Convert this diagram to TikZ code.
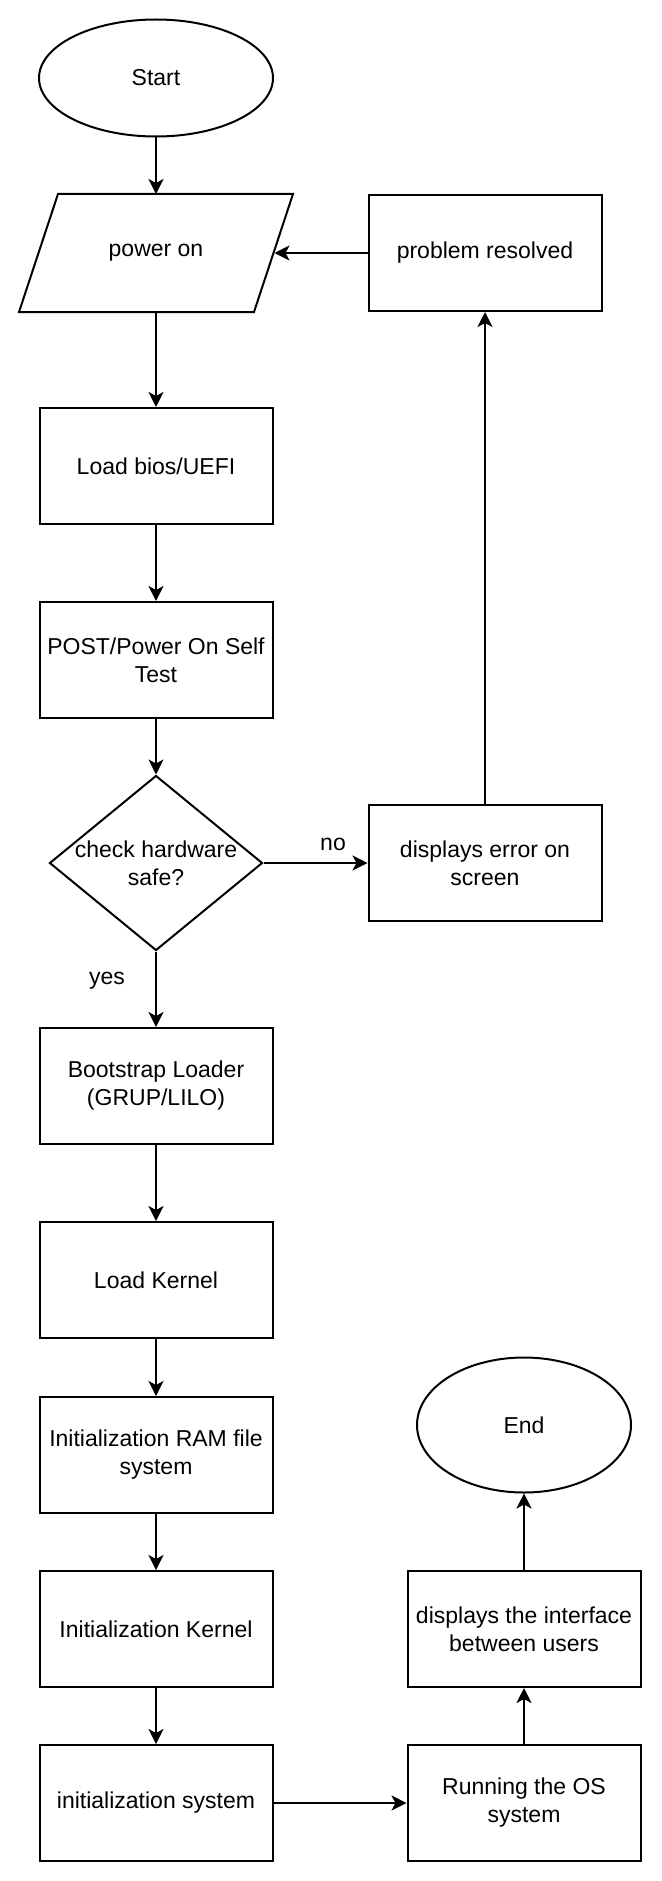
\documentclass[tikz,border=0pt]{standalone}
\usepackage{fontspec}
\setmainfont{Liberation Sans}
\usetikzlibrary{shapes.geometric,arrows.meta}

\begin{document}
\begin{tikzpicture}[x=1pt, y=-1pt, line width=2pt,
	  every node/.style={font=\fontsize{23}{28}\selectfont, align=center},
	  process/.style={draw, rectangle, minimum width=233pt, minimum height=116pt, inner sep=0pt},
	  terminal/.style={draw, ellipse, inner sep=0pt},
	  iobox/.style={rectangle, minimum width=233pt, minimum height=116pt, inner sep=0pt},
	  decision/.style={draw, diamond, minimum width=213pt, minimum height=175pt, inner sep=0pt},
	  flow/.style={-{Stealth[length=15pt, width=15pt, inset=4pt]}}]
	  \useasboundingbox (0,0) rectangle (661,1881);
	  % main column
	  \node[terminal, minimum width=234pt, minimum height=117pt] (start) at (156,78) {Start};
	  \node[iobox] (power) at (156,253) {power on};
	  \draw ([xshift=19.5pt]power.north west) -- ([xshift=19.5pt]power.north east)
	    -- ([xshift=-19.5pt]power.south east) -- ([xshift=-19.5pt]power.south west) -- cycle;
	  \node[process] (bios) at (156,466) {Load bios/UEFI};
	  \node[process] (post) at (156,660) {POST/Power On Self\\Test};
	  \node[decision] (check) at (156,863) {};
	  \node (checktxt) at (check) {check hardware\\safe?};
	  \node[process] (boot) at (156,1086) {Bootstrap Loader\\(GRUP/LILO)};
	  \node[process] (kernel) at (156,1280) {Load Kernel};
	  \node[process] (ram) at (156,1455) {Initialization RAM file\\system};
	  \node[process] (initk) at (156,1629) {Initialization Kernel};
	  \node[process] (initsys) at (156,1803) {initialization system};
	  % error loop
	  \node[process] (error) at (485,863) {displays error on\\screen};
	  \node[process] (resolved) at (485,253) {problem resolved};
	  % right column
	  \node[process] (running) at (524,1803) {Running the OS\\system};
	  \node[process] (iface) at (524,1629) {displays the interface\\between users};
	  \node[terminal, minimum width=214pt, minimum height=135pt] (theend) at (524,1425) {End};
	  % labels
	  \node (nolbl) at (333,844) {no};
	  \node (yeslbl) at (107,981) {yes};
	  % connectors
	  \draw[flow] (start) -- (power.north);
	  \draw[flow] (power.south) -- (bios);
	  \draw[flow] (bios) -- (post);
	  \draw[flow] (post) -- (check);
	  \draw[flow] (check.east) -- (error.west);
	  \draw[flow] (error) -- (resolved);
	  \draw[flow] (resolved.west) -- ([xshift=1pt]power.east);
	  \draw[flow] (check.south) -- (boot.north);
	  \draw[flow] (boot) -- (kernel);
	  \draw[flow] (kernel) -- (ram);
	  \draw[flow] (ram) -- (initk);
	  \draw[flow] (initk) -- (initsys);
	  \draw[flow] (initsys) -- (running);
	  \draw[flow] (running) -- (iface);
	  \draw[flow] (iface) -- (theend);
	\end{tikzpicture}
\end{document}
